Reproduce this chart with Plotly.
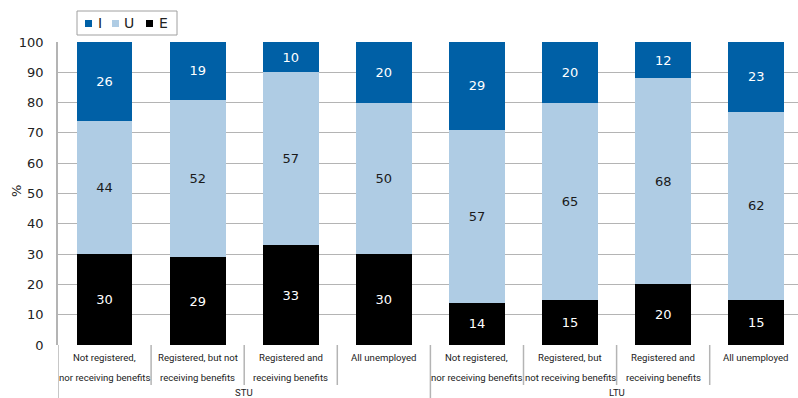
import plotly.graph_objects as go

# Transition shares by registration / benefit status
line1 = ["Not registered,", "Registered, but not", "Registered and", "All unemployed",
         "Not registered,", "Registered, but", "Registered and", "All unemployed"]
line2 = ["nor receiving benefits", "receiving benefits", "receiving benefits", "",
         "nor receiving benefits", "not receiving benefits", "receiving benefits", ""]
groups = ["STU", "LTU"]

series_names = ["I", "U", "E"]
series_colors = ["#0060A6", "#AFCCE4", "#000000"]
share_i = [26, 19, 10, 20, 29, 20, 12, 23]
share_u = [44, 52, 57, 50, 57, 65, 68, 62]
share_e = [30, 29, 33, 30, 14, 15, 20, 15]

W, H = 798, 398
ML, MT, MB = 58, 42, 53
PW = W - ML          # plot runs off the right edge
PH = H - MT - MB
x_lo = -0.5
x_hi = x_lo + PW / 93.1

x = list(range(len(line1)))
num_font = dict(family="DejaVu Sans", size=13)
grey = "#b4b4b4"

fig = go.Figure()
for name, vals, col, tcol in [("E", share_e, series_colors[2], "white"),
                              ("U", share_u, series_colors[1], "#1a1a1a"),
                              ("I", share_i, series_colors[0], "white")]:
    fig.add_bar(x=x, y=vals, name=name, marker=dict(color=col, line=dict(width=0)),
                text=vals, textposition="inside", insidetextanchor="middle",
                textfont=dict(num_font, color=tcol))


def px_x(p):
    return (p - ML) / PW


def px_y(p):
    return (H - MB - p) / PH


shapes = []
for b in [0.5, 1.5, 2.5, 4.5, 5.5, 6.5]:
    shapes.append(dict(type="line", xref="x", yref="paper", x0=b, x1=b,
                       y0=0, y1=px_y(385), line=dict(color=grey, width=1.5)))
for b in [-0.5, 3.5]:
    shapes.append(dict(type="line", xref="x", yref="paper", x0=b, x1=b,
                       y0=0, y1=px_y(400), line=dict(color=grey, width=1.5)))

cat_font = dict(family="Roboto", size=9.6, color="#222222")
annotations = []
for i in x:
    annotations.append(dict(x=i, y=px_y(357), xref="x", yref="paper", text=line1[i],
                            showarrow=False, yanchor="middle", font=cat_font))
    if line2[i]:
        annotations.append(dict(x=i, y=px_y(377), xref="x", yref="paper", text=line2[i],
                                showarrow=False, yanchor="middle", font=cat_font))
for g, cx in zip(groups, [1.5, 5.5]):
    annotations.append(dict(x=cx, y=px_y(392), xref="x", yref="paper", text=g,
                            showarrow=False, yanchor="middle", font=cat_font))

# y-axis title
annotations.append(dict(x=px_x(16), y=px_y(191), xref="paper", yref="paper", text="%",
                        textangle=-90, showarrow=False, xanchor="center", yanchor="middle",
                        font=dict(family="DejaVu Sans", size=13, color="#222")))

# compact legend: framed box with small squares
shapes.append(dict(type="rect", xref="paper", yref="paper",
                   x0=px_x(77), x1=px_x(177), y0=px_y(35), y1=px_y(11),
                   line=dict(color="#a0a0a0", width=1), fillcolor="white"))
for name, col, sq, tx in zip(series_names, series_colors, [85, 112, 146], [100, 129, 163]):
    shapes.append(dict(type="rect", xref="paper", yref="paper",
                       x0=px_x(sq), x1=px_x(sq + 7), y0=px_y(27), y1=px_y(20),
                       line=dict(width=0), fillcolor=col))
    annotations.append(dict(x=px_x(tx), y=px_y(23), xref="paper", yref="paper", text=name,
                            showarrow=False, xanchor="center", yanchor="middle",
                            font=dict(family="DejaVu Sans", size=14, color="#222")))

fig.update_layout(
    width=W, height=H,
    margin=dict(l=ML, r=0, t=MT, b=MB),
    barmode="stack", bargap=0.4,
    plot_bgcolor="white", paper_bgcolor="white",
    showlegend=False,
    xaxis=dict(range=[x_lo, x_hi], showticklabels=False, showgrid=False,
               zeroline=False, showline=False, fixedrange=True),
    yaxis=dict(range=[0, 100], dtick=10, showgrid=True, gridcolor=grey,
               gridwidth=1, zeroline=False, showline=True, linecolor=grey,
               linewidth=1.5, ticks="", ticklabelstandoff=10,
               tickfont=dict(family="DejaVu Sans", size=13, color="#222")),
    shapes=shapes, annotations=annotations,
)

fig.write_html("out.html")
